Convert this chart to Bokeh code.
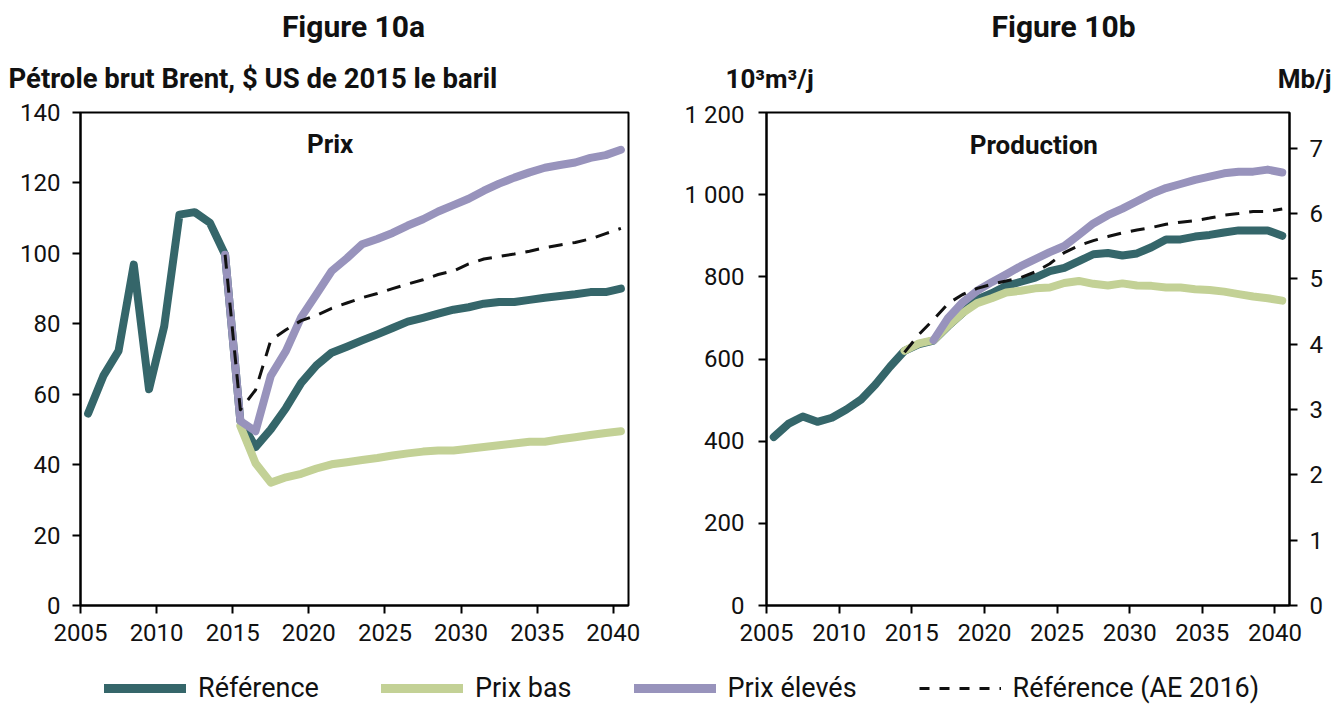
from bokeh.plotting import figure
from bokeh.models import Range1d, LinearAxis, FixedTicker, Label, Legend, LegendItem
from bokeh.layouts import column, row
from bokeh.core.properties import value
from bokeh.embed import file_html
from bokeh.resources import INLINE

FONT = "Roboto"
INK = "#111111"

# Series colours
C_REF = "#35666a"
C_LOW = "#c3d196"
C_HIGH = "#9893bc"
C_AE = "#111111"

# ---------------------------------------------------------------- data
# Brent crude price, 2015 US$ per barrel
ref_price_years = list(range(2005, 2041))
ref_price = [54.5, 65.2, 72.3, 96.8, 61.4, 79.3, 111.0, 111.7, 108.7, 99.6,
             52.4, 45.0, 50.0, 56.1, 63.2, 68.2, 71.8, 73.5, 75.3, 77.0,
             78.8, 80.6, 81.7, 82.9, 84.0, 84.7, 85.7, 86.2, 86.2, 86.8,
             87.4, 87.9, 88.4, 89.0, 89.0, 90.0]

low_price_years = list(range(2015, 2041))
low_price = [51.0, 40.4, 34.9, 36.4, 37.4, 38.9, 40.1, 40.7, 41.3, 41.9,
             42.6, 43.2, 43.7, 44.0, 44.0, 44.5, 45.0, 45.5, 46.0, 46.5,
             46.5, 47.2, 47.8, 48.4, 49.0, 49.5]

high_price_years = list(range(2014, 2041))
high_price = [99.6, 52.4, 49.5, 65.2, 72.3, 81.9, 88.4, 95.0, 98.6, 102.6,
              104.1, 105.8, 107.9, 109.7, 111.9, 113.7, 115.5, 117.8, 119.8,
              121.5, 123.0, 124.3, 125.1, 125.8, 127.1, 127.9, 129.4]

ae_price_years = list(range(2014, 2041))
ae_price = [99.6, 55.6, 61.2, 75.3, 78.3, 80.9, 82.4, 84.4, 85.9, 87.4,
            88.6, 90.0, 91.3, 92.5, 94.0, 95.0, 97.0, 98.4, 99.1, 99.8,
            100.6, 101.6, 102.4, 103.1, 104.1, 105.6, 107.1]

# Production, thousand m3 per day
ref_prod_years = list(range(2005, 2041))
ref_prod = [410, 442, 460, 447, 457, 477, 501, 538, 581, 620,
            636, 645, 680, 712, 745, 760, 778, 788, 798, 814,
            822, 838, 855, 858, 852, 857, 872, 891, 891, 898,
            902, 908, 913, 913, 913, 900]

low_prod_years = list(range(2014, 2041))
low_prod = [620, 638, 646, 681, 712, 736, 748, 762, 766, 772,
            774, 785, 790, 783, 779, 784, 779, 778, 774, 774,
            770, 768, 764, 758, 752, 748, 742]

high_prod_years = list(range(2016, 2041))
high_prod = [646, 700, 738, 766, 787, 806, 826, 843, 860, 875,
             902, 930, 950, 966, 984, 1002, 1016, 1026, 1036, 1044,
             1052, 1056, 1056, 1061, 1054]

ae_prod_years = list(range(2014, 2041))
ae_prod = [616, 660, 696, 735, 757, 772, 782, 790, 798, 812,
           832, 859, 876, 888, 898, 907, 914, 920, 928, 933,
           937, 943, 950, 954, 959, 959, 965]

year_ticks = [2005, 2010, 2015, 2020, 2025, 2030, 2035, 2040]
price_ticks = [0, 20, 40, 60, 80, 100, 120, 140]
prod_ticks = [0, 200, 400, 600, 800, 1000, 1200]
prod_tick_labels = {0: "0", 200: "200", 400: "400", 600: "600",
                    800: "800", 1000: "1 000", 1200: "1 200"}
mbj_ticks = [0, 1, 2, 3, 4, 5, 6, 7]
M3_TO_BBL = 6.2898  # barrels per cubic metre

titles = ["Figure 10a", "Figure 10b"]
legend_labels = ["Référence", "Prix bas", "Prix élevés", "Référence (AE 2016)"]


def mid(years):
    # yearly values sit in the middle of each year's slot
    return [y + 0.5 for y in years]


def style_axis(ax):
    ax.axis_line_color = "black"
    ax.axis_line_width = 2
    ax.major_tick_line_color = "black"
    ax.major_tick_line_width = 2
    ax.major_tick_out = 8
    ax.major_tick_in = 0
    ax.minor_tick_out = 0
    ax.minor_tick_in = 0
    ax.major_label_text_font = FONT
    ax.major_label_text_font_size = "24px"
    ax.major_label_text_color = INK


def base_fig(width, y_max, border_left, border_right):
    p = figure(width=width, height=560,
               x_range=Range1d(2005, 2041), y_range=Range1d(0, y_max),
               output_backend="svg", toolbar_location=None,
               min_border_left=border_left, min_border_right=border_right,
               min_border_top=12, min_border_bottom=55)
    p.grid.visible = False
    p.outline_line_color = "black"
    p.outline_line_width = 2
    p.background_fill_color = "white"
    p.border_fill_color = "white"
    p.xaxis.ticker = FixedTicker(ticks=year_ticks)
    p.xaxis.major_label_standoff = 10
    for ax in p.xaxis + p.yaxis:
        style_axis(ax)
    return p


def draw_series(p, sets):
    for xs, ys, color, width, dash in sets:
        p.line(mid(xs), ys, line_color=color, line_width=width,
               line_dash=dash, line_cap="round" if dash == "solid" else "butt",
               line_join="round")


# ---------------------------------------------------------------- header
header = figure(width=1343, height=100, x_range=Range1d(0, 1343),
                y_range=Range1d(100, 0), output_backend="svg",
                toolbar_location=None, min_border=0,
                x_axis_type=None, y_axis_type=None)
header.grid.visible = False
header.outline_line_color = None
header.text(x=[353, 1063], y=[26, 26], text=titles,
            text_font=value(FONT), text_font_style="bold",
            text_font_size="30px", text_align="center",
            text_baseline="middle", text_color=INK)
header.text(x=[8], y=[78], text=["Pétrole brut Brent, $ US de 2015 le baril"],
            text_font=value(FONT), text_font_style="bold",
            text_font_size="27.5px", text_align="left",
            text_baseline="middle", text_color=INK)
header.text(x=[725], y=[78], text=["10³m³/j"],
            text_font=value(FONT), text_font_style="bold",
            text_font_size="26px", text_align="left",
            text_baseline="middle", text_color=INK)
header.text(x=[1331], y=[78], text=["Mb/j"],
            text_font=value(FONT), text_font_style="bold",
            text_font_size="26px", text_align="right",
            text_baseline="middle", text_color=INK)

# ---------------------------------------------------------------- price
p1 = base_fig(676, 140, 80, 48)
p1.yaxis.ticker = FixedTicker(ticks=price_ticks)
p1.yaxis.major_label_standoff = 12
draw_series(p1, [
    (ref_price_years, ref_price, C_REF, 8, "solid"),
    (low_price_years, low_price, C_LOW, 8, "solid"),
    (high_price_years, high_price, C_HIGH, 8, "solid"),
    (ae_price_years, ae_price, C_AE, 3, "14 10"),
])
p1.add_layout(Label(x=2021.4, y=131, text="Prix", text_font=FONT,
                    text_font_style="bold", text_font_size="26px",
                    text_align="center", text_baseline="middle",
                    text_color=INK))

# ---------------------------------------------------------------- production
p2 = base_fig(667, 1200, 90, 54)
p2.yaxis.ticker = FixedTicker(ticks=prod_ticks)
p2.yaxis.major_label_overrides = prod_tick_labels
p2.yaxis.major_label_standoff = 14
p2.extra_y_ranges = {"mbj": Range1d(0, 1200 * M3_TO_BBL / 1000)}
right_axis = LinearAxis(y_range_name="mbj", ticker=FixedTicker(ticks=mbj_ticks))
style_axis(right_axis)
right_axis.major_label_standoff = 12
p2.add_layout(right_axis, "right")
draw_series(p2, [
    (ref_prod_years, ref_prod, C_REF, 8, "solid"),
    (low_prod_years, low_prod, C_LOW, 8, "solid"),
    (high_prod_years, high_prod, C_HIGH, 8, "solid"),
    (ae_prod_years, ae_prod, C_AE, 3, "14 10"),
])
p2.add_layout(Label(x=2023.4, y=1120, text="Production", text_font=FONT,
                    text_font_style="bold", text_font_size="26px",
                    text_align="center", text_baseline="middle",
                    text_color=INK))

# ---------------------------------------------------------------- legend strip
leg = figure(width=1343, height=46, x_range=Range1d(0, 1), y_range=Range1d(0, 1),
             output_backend="svg", toolbar_location=None, min_border=0,
             x_axis_type=None, y_axis_type=None)
leg.grid.visible = False
leg.outline_line_color = None
# swatch renderers hold a point pair outside the visible range
off_x, off_y = [-5, -4], [-5, -4]
swatches = [
    leg.line(off_x, off_y, line_color=C_REF, line_width=9, line_cap="round"),
    leg.line(off_x, off_y, line_color=C_LOW, line_width=9, line_cap="round"),
    leg.line(off_x, off_y, line_color=C_HIGH, line_width=9, line_cap="round"),
    leg.line(off_x, off_y, line_color=C_AE, line_width=3, line_dash="10 10"),
]
legend = Legend(items=[LegendItem(label=lab, renderers=[r])
                       for lab, r in zip(legend_labels, swatches)],
                orientation="horizontal", location=(104, 2),
                glyph_width=82, glyph_height=30, label_height=30,
                label_standoff=12, spacing=62, padding=0, margin=0,
                border_line_color=None, background_fill_alpha=0,
                label_text_font=FONT, label_text_font_size="27px",
                label_text_color=INK, label_text_baseline="middle")
leg.add_layout(legend, "center")

layout = column(header, row(p1, p2), leg)
open("out.html", "w").write(file_html(layout, INLINE))
